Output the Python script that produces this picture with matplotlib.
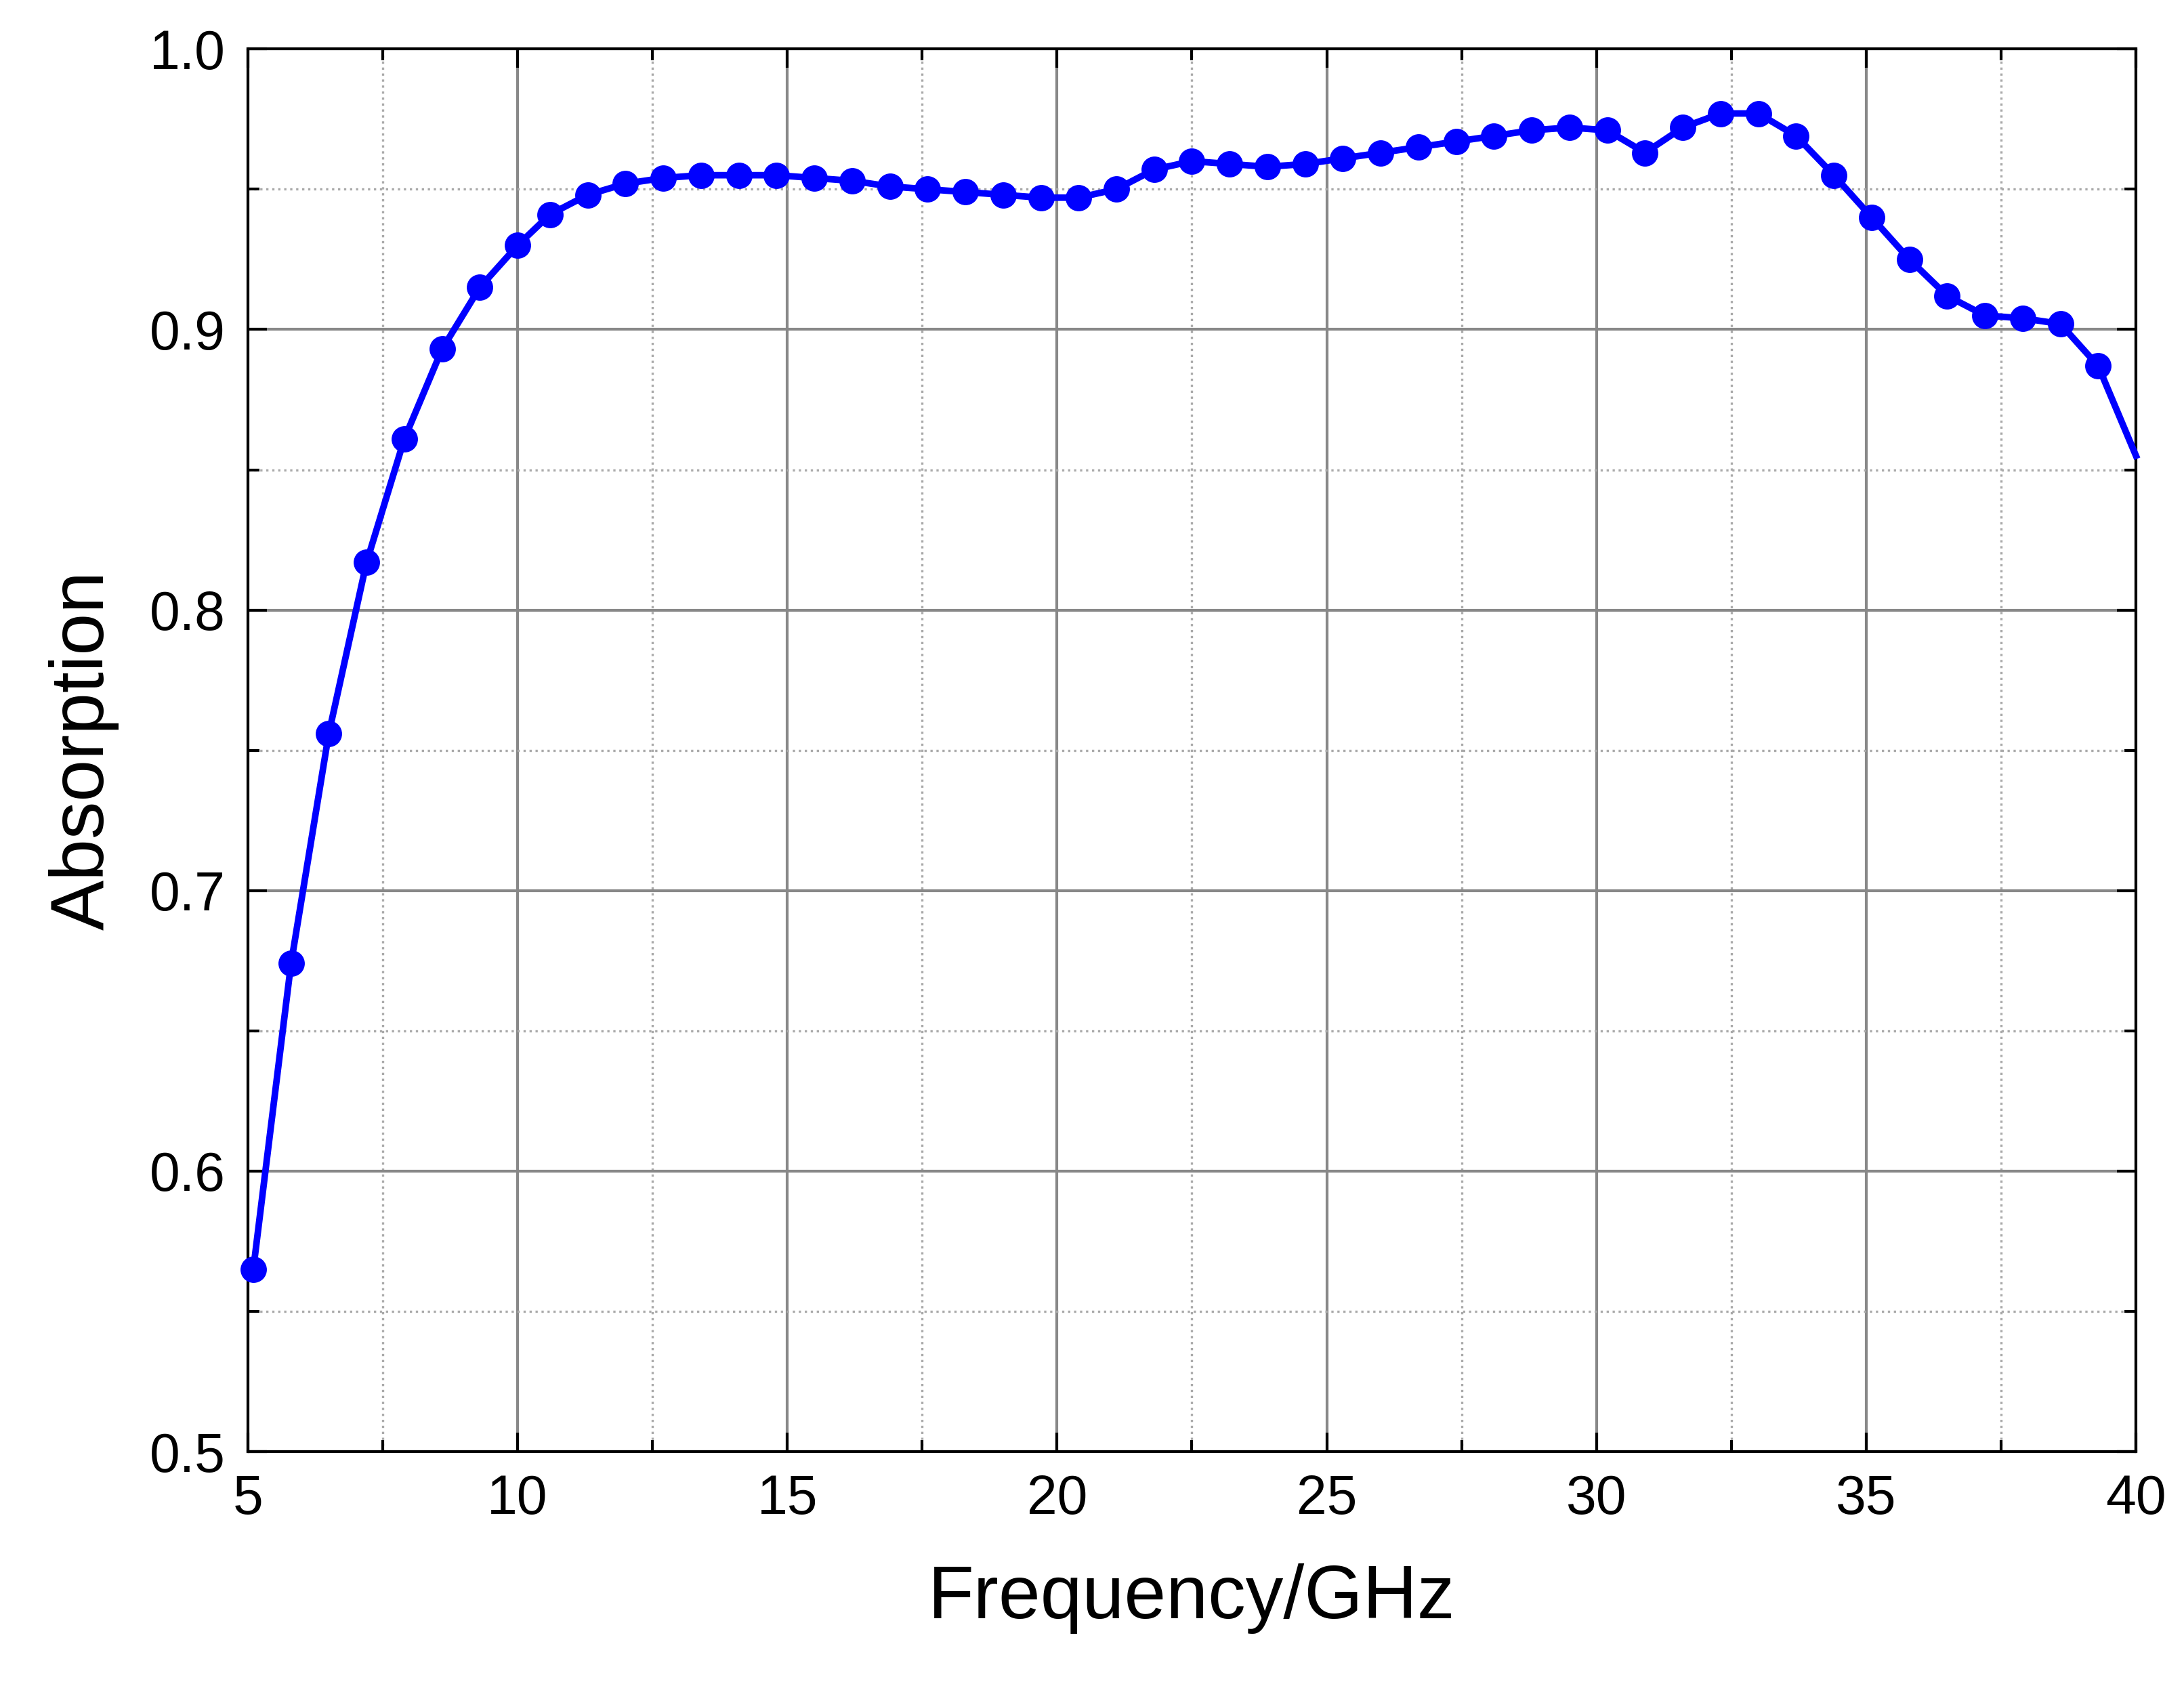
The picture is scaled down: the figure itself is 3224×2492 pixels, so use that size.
import matplotlib
matplotlib.use("Agg")
import matplotlib.pyplot as plt
from matplotlib.ticker import MultipleLocator

plt.rcParams['font.family'] = ['Liberation Sans', 'DejaVu Sans']

freq = [5.1, 5.8, 6.5, 7.2, 7.9, 8.6, 9.3, 10.0, 10.6, 11.3, 12.0, 12.7, 13.4, 14.1, 14.8,
        15.5, 16.2, 16.9, 17.6, 18.3, 19.0, 19.7, 20.4, 21.1, 21.8, 22.5, 23.2, 23.9, 24.6,
        25.3, 26.0, 26.7, 27.4, 28.1, 28.8, 29.5, 30.2, 30.9, 31.6, 32.3, 33.0, 33.7, 34.4,
        35.1, 35.8, 36.5, 37.2, 37.9, 38.6, 39.3, 40.0]
absorption = [0.565, 0.674, 0.756, 0.817, 0.861, 0.893, 0.915, 0.930, 0.941, 0.948, 0.952,
              0.954, 0.955, 0.955, 0.955, 0.954, 0.953, 0.951, 0.950, 0.949, 0.948, 0.947,
              0.947, 0.950, 0.957, 0.960, 0.959, 0.958, 0.959, 0.961, 0.963, 0.965, 0.967,
              0.969, 0.971, 0.972, 0.971, 0.963, 0.972, 0.977, 0.977, 0.969, 0.955, 0.940,
              0.925, 0.912, 0.905, 0.904, 0.902, 0.887, 0.855]

fig = plt.figure(figsize=(16.12, 12.46), dpi=200)
ax = fig.add_axes([0.1135, 0.14, 0.8645, 0.831])

ax.plot(freq, absorption, color='#0000ff', lw=3.5, marker='o', ms=13,
        markevery=list(range(len(freq) - 1)), clip_on=False, zorder=3)

ax.set_xlim(5, 40)
ax.set_ylim(0.5, 1.0)
ax.xaxis.set_major_locator(MultipleLocator(5))
ax.xaxis.set_minor_locator(MultipleLocator(2.5))
ax.yaxis.set_major_locator(MultipleLocator(0.1))
ax.yaxis.set_minor_locator(MultipleLocator(0.05))
ax.grid(True, which='major', color='#888888', lw=1.5)
ax.grid(True, which='minor', color='#aaaaaa', lw=1.2, ls=':')
ax.tick_params(which='both', direction='in', top=True, right=True, width=1.5)
ax.tick_params(which='major', length=10, labelsize=29, pad=12)
ax.tick_params(which='minor', length=6)
for s in ax.spines.values():
    s.set_linewidth(1.5)
ax.set_yticklabels([f"{v:.1f}" for v in ax.get_yticks()])
ax.set_xlabel("Frequency/GHz", fontsize=40, labelpad=20)
ax.set_ylabel("Absorption", fontsize=40, labelpad=16)

fig.savefig("out.png", dpi=200)
